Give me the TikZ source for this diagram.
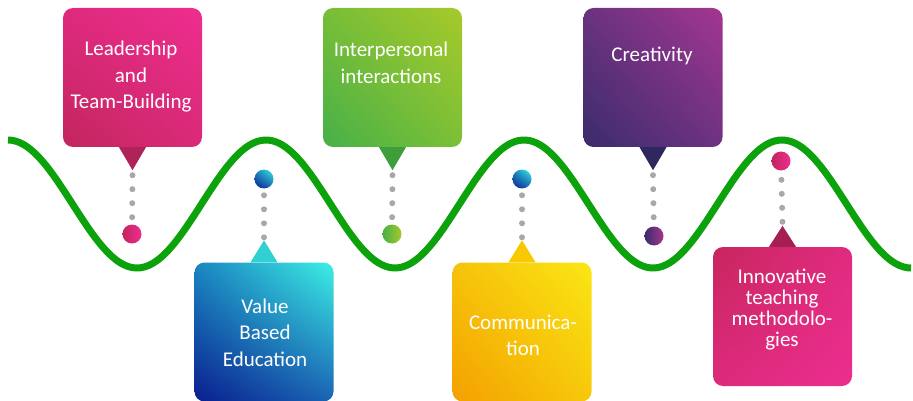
\documentclass[tikz,border=0pt]{standalone}
\usepackage{fontspec}
\setmainfont{Carlito}
\usetikzlibrary{shadings}
\definecolor{wavegreen}{HTML}{0BA20B}
\definecolor{dotgray}{HTML}{A8A8A8}
% box colours
\definecolor{pkUR}{HTML}{EE2D8E}\definecolor{pkLL}{HTML}{C2265E}\definecolor{pkUL}{HTML}{DE2A7E}\definecolor{pkLR}{HTML}{DA2A78}
\definecolor{blUR}{HTML}{3CF0E6}\definecolor{blLL}{HTML}{0A1E8E}\definecolor{blUL}{HTML}{1A86C0}\definecolor{blLR}{HTML}{1A64B4}
\definecolor{grUR}{HTML}{A6C92A}\definecolor{grLL}{HTML}{46B048}\definecolor{grUL}{HTML}{78BE38}\definecolor{grLR}{HTML}{7CC036}
\definecolor{yeUR}{HTML}{FAE614}\definecolor{yeLL}{HTML}{F4A000}\definecolor{yeUL}{HTML}{F6C30A}\definecolor{yeLR}{HTML}{F7C80A}
\definecolor{puUR}{HTML}{A3368F}\definecolor{puLL}{HTML}{3A2C6C}\definecolor{puUL}{HTML}{6A3280}\definecolor{puLR}{HTML}{6E3282}
\definecolor{inUL}{HTML}{C8265E}\definecolor{inLR}{HTML}{EC2E8E}\definecolor{inUR}{HTML}{E02B80}\definecolor{inLL}{HTML}{DC2A7C}
% pointer colours
\definecolor{ptPink}{HTML}{B0235A}
\definecolor{ptGreen}{HTML}{3E9E3C}
\definecolor{ptCyan}{HTML}{32D0D2}
\definecolor{ptYellow}{HTML}{F8C800}
\definecolor{ptPurple}{HTML}{2E285E}
\definecolor{ptInno}{HTML}{A41F52}
\begin{document}
\begin{tikzpicture}[x=1pt,y=-1pt,
  box/.style={rounded corners=10pt, minimum width=139pt, minimum height=139pt, inner sep=0pt},
  lbl/.style={text=white, align=center, inner sep=0pt, font=\fontsize{21}{26.5}\selectfont},
  dotline/.style={draw=dotgray, line width=6pt, line cap=round, dash pattern=on 0pt off 14pt},
  ball/.style={circle, minimum size=19pt, inner sep=0pt},
  wave/.style={draw=wavegreen, line width=7pt}]
\useasboundingbox (0,0) rectangle (913,401);

% wave
\draw[wave] plot[domain=8:911, samples=240, smooth] (\x, {204 - 64*cos(1.395349*(\x-8))});

% boxes
\node[box, upper left=pkUL, upper right=pkUR, lower left=pkLL, lower right=pkLR] (b1) at (132.5,77.5) {};
\node[box, upper left=blUL, upper right=blUR, lower left=blLL, lower right=blLR] (b2) at (264,332) {};
\node[box, upper left=grUL, upper right=grUR, lower left=grLL, lower right=grLR] (b3) at (392.5,77.5) {};
\node[box, upper left=yeUL, upper right=yeUR, lower left=yeLL, lower right=yeLR] (b4) at (522,332) {};
\node[box, upper left=puUL, upper right=puUR, lower left=puLL, lower right=puLR] (b5) at (653,77.5) {};
\node[box, upper left=inUL, upper right=inUR, lower left=inLL, lower right=inLR] (b6) at (782.5,316.5) {};

% pointer tips
\coordinate (t1) at ([yshift=-23pt]b1.south);
\coordinate (t3) at ([yshift=-23pt]b3.south);
\coordinate (t5) at ([yshift=-23pt]b5.south);
\coordinate (t2) at ([yshift=22pt]b2.north);
\coordinate (t4) at ([yshift=22pt]b4.north);
\coordinate (t6) at ([yshift=21pt]b6.north);

\fill[ptPink]   ([xshift=-13.5pt]b1.south) -- ([xshift=13.5pt]b1.south) -- (t1) -- cycle;
\fill[ptGreen]  ([xshift=-13.5pt]b3.south) -- ([xshift=13.5pt]b3.south) -- (t3) -- cycle;
\fill[ptPurple] ([xshift=-13.5pt]b5.south) -- ([xshift=13.5pt]b5.south) -- (t5) -- cycle;
\fill[ptCyan]   ([xshift=-13.5pt]b2.north) -- ([xshift=13.5pt]b2.north) -- (t2) -- cycle;
\fill[ptYellow] ([xshift=-13.5pt]b4.north) -- ([xshift=13.5pt]b4.north) -- (t4) -- cycle;
\fill[ptInno]   ([xshift=-13.5pt]b6.north) -- ([xshift=13.5pt]b6.north) -- (t6) -- cycle;

% ball positions
\coordinate (p1) at (132,234);
\coordinate (p2) at (264,179);
\coordinate (p3) at (392,234);
\coordinate (p4) at (522,179);
\coordinate (p5) at (654,236);
\coordinate (p6) at (781,161);

% dotted connectors
\draw[dotline] ([yshift=-5pt]t1) -- (p1);
\draw[dotline] ([yshift=-5pt]t3) -- (p3);
\draw[dotline] ([yshift=-5pt]t5) -- (p5);
\draw[dotline] ([yshift=3pt]t2) -- (p2);
\draw[dotline] ([yshift=3pt]t4) -- (p4);
\draw[dotline] ([yshift=4pt]t6) -- (p6);

% balls
\node[ball, left color=pkLL, right color=pkUR] (c1) at (p1) {};
\node[ball, upper left=blUL, upper right=blUR, lower left=blLL, lower right=blLR] (c2) at (p2) {};
\node[ball, left color=grLL, right color=grUR] (c3) at (p3) {};
\node[ball, upper left=blUL, upper right=blUR, lower left=blLL, lower right=blLR] (c4) at (p4) {};
\node[ball, left color=puLL, right color=puUR] (c5) at (p5) {};
\node[ball, left color=pkLL, right color=pkUR] (c6) at (p6) {};

% labels
\node[lbl] (l1) at (131,77.2) {\strut Leadership\\\strut and\\\strut Team-Building};
\node[lbl] (l3) at (391,64.8) {\strut Interpersonal\\\strut interactions};
\node[lbl] (l5) at (652,56.7) {\strut Creativity};
\node[lbl] (l2) at (265,334.2) {\strut Value\\\strut Based\\\strut Education};
\node[lbl] (l4) at (523,337) {\strut Communica-\\\strut tion};
\node[lbl, font=\fontsize{21}{21}\selectfont] (l6) at (782,310.3) {\strut Innovative\\\strut teaching\\\strut methodolo-\\\strut gies};
\end{tikzpicture}
\end{document}
